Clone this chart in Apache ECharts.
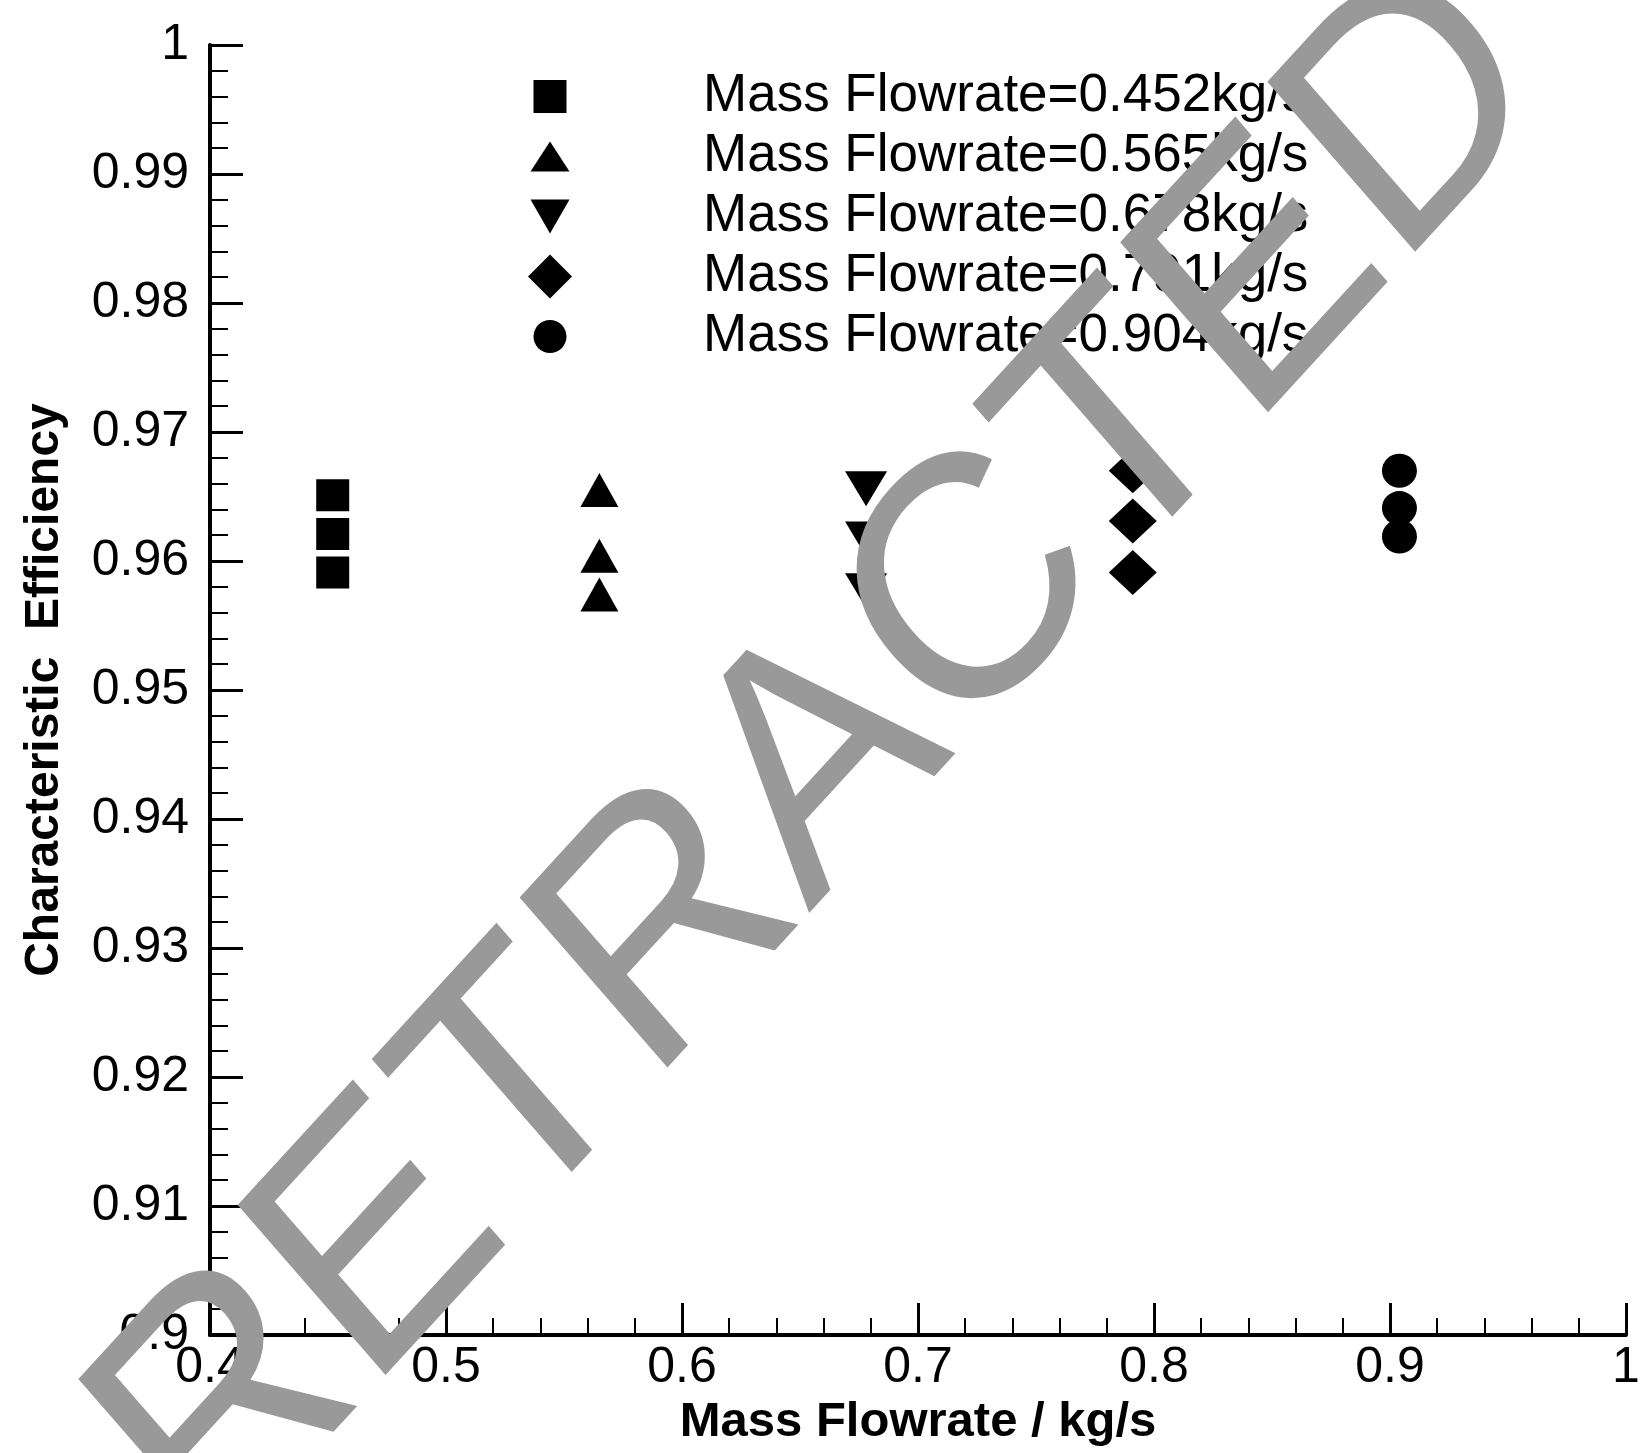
<!DOCTYPE html>
<html>
<head>
<meta charset="utf-8">
<script src="https://cdn.jsdelivr.net/npm/echarts@6/dist/echarts.min.js"></script>
<style>
html,body{margin:0;padding:0;background:#fff;}
#chart{width:1648px;height:1453px;}
</style>
</head>
<body>
<div id="chart"></div>
<script>
// ---- data ----
const seriesNames = [
  'Mass Flowrate=0.452kg/s',
  'Mass Flowrate=0.565kg/s',
  'Mass Flowrate=0.678kg/s',
  'Mass Flowrate=0.791kg/s',
  'Mass Flowrate=0.904kg/s'
];
const flowX = [0.452, 0.565, 0.678, 0.791, 0.904];
const eff452 = [0.9651, 0.9621, 0.9591];
const eff565 = [0.9655, 0.9604, 0.9574];
const eff678 = [0.9656, 0.9617, 0.9577];
const eff791 = [0.9670, 0.9631, 0.9591];
const eff904 = [0.9670, 0.9641, 0.9619];
const xTickLabels = ['0.4', '0.5', '0.6', '0.7', '0.8', '0.9', '1'];
const yTickLabels = ['0.9', '0.91', '0.92', '0.93', '0.94', '0.95', '0.96', '0.97', '0.98', '0.99', '1'];
const xAxisTitle = 'Mass Flowrate / kg/s';
const yAxisTitle = 'Characteristic  Efficiency';
const watermark = 'RETRACTED';

// ---- styles ----
const FONT = "'Liberation Sans', Arial, sans-serif";
const effSets = [eff452, eff565, eff678, eff791, eff904];
const seriesSymbols = ['rect', 'triangle', 'triangle', 'diamond', 'circle'];
const seriesRotate = [0, 0, 180, 0, 0];
const seriesSizes = [[33, 32], [38, 34], [42, 35], [48, 45], [35, 34]];
const legendIcons = [
  'path://M0,0M44,44M5.5,5.5L38.5,5.5L38.5,38.5L5.5,38.5Z',
  'path://M0,0M44,44M22,7L41.5,37L2.5,37Z',
  'path://M0,0M44,44M2.5,5L41.5,5L22,39Z',
  'path://M22,0L44,22L22,44L0,22Z',
  'path://M0,0M44,44M5.5,22A16.5,16.5 0 1 1 38.5,22A16.5,16.5 0 1 1 5.5,22Z'
];

const series = seriesNames.map((name, i) => ({
  name: name,
  type: 'scatter',
  symbol: seriesSymbols[i],
  symbolRotate: seriesRotate[i],
  symbolSize: seriesSizes[i],
  itemStyle: { color: '#000', opacity: 1 },
  emphasis: { disabled: true },
  data: effSets[i].map(v => [flowX[i], v]),
  z: 3
}));

const chart = echarts.init(document.getElementById('chart'), null, { renderer: 'canvas' });
chart.setOption({
  animation: false,
  backgroundColor: '#fff',
  textStyle: { fontFamily: FONT },
  grid: { left: 210, right: 22, top: 45, bottom: 118, containLabel: false },
  legend: {
    orient: 'vertical',
    left: 528,
    top: 70,
    padding: 0,
    itemWidth: 44,
    itemHeight: 44,
    itemGap: 7,
    selectedMode: false,
    data: seriesNames.map((n, i) => ({ name: n, icon: legendIcons[i], itemStyle: { color: '#000' } })),
    textStyle: { fontSize: 53, color: '#000', fontFamily: FONT, lineHeight: 50, padding: [0, 0, 0, 126] }
  },
  xAxis: {
    type: 'value',
    min: 0.4, max: 1, interval: 0.1,
    name: xAxisTitle,
    nameLocation: 'middle',
    nameGap: 61,
    nameTextStyle: { fontSize: 49, fontWeight: 'bold', color: '#000', fontFamily: FONT },
    axisLine: { show: true, onZero: false, lineStyle: { color: '#000', width: 4 } },
    axisTick: { show: true, inside: true, length: 32, lineStyle: { color: '#000', width: 3 } },
    minorTick: { show: true, splitNumber: 5, length: 17, lineStyle: { color: '#000', width: 2 } },
    splitLine: { show: false },
    minorSplitLine: { show: false },
    axisLabel: {
      margin: 8, fontSize: 50, color: '#000', fontFamily: FONT,
      showMinLabel: true, showMaxLabel: true,
      formatter: v => xTickLabels[Math.round((v - 0.4) / 0.1)]
    }
  },
  yAxis: {
    type: 'value',
    min: 0.9, max: 1, interval: 0.01,
    name: yAxisTitle,
    nameLocation: 'middle',
    nameGap: 141,
    nameTextStyle: { fontSize: 48, fontWeight: 'bold', color: '#000', fontFamily: FONT },
    axisLine: { show: true, onZero: false, lineStyle: { color: '#000', width: 4 } },
    axisTick: { show: true, inside: true, length: 33, lineStyle: { color: '#000', width: 3 } },
    minorTick: { show: true, splitNumber: 5, length: 18, lineStyle: { color: '#000', width: 2 } },
    splitLine: { show: false },
    minorSplitLine: { show: false },
    axisLabel: {
      margin: 21, fontSize: 50, color: '#000', fontFamily: FONT,
      showMinLabel: true, showMaxLabel: true,
      formatter: v => yTickLabels[Math.round((v - 0.9) / 0.01)]
    }
  },
  series: series,
  graphic: [{
    type: 'group',
    x: 823, y: 765,
    scaleY: 1.12,
    z: 100,
    silent: true,
    children: [{
      type: 'text',
      rotation: 0.7723,
      z: 100,
      style: {
        text: watermark,
        fontSize: 308,
        fontFamily: FONT,
        fill: '#999999',
        align: 'center',
        verticalAlign: 'middle'
      }
    }]
  }]
});
</script>
</body>
</html>
